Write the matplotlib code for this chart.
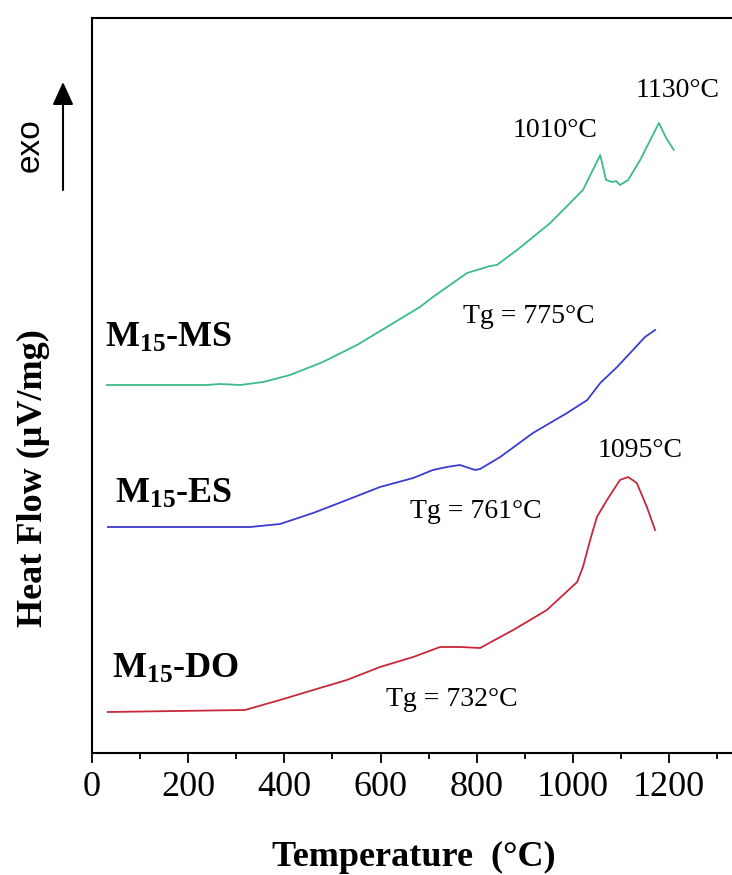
import matplotlib
matplotlib.use('Agg')
import matplotlib.pyplot as plt
from matplotlib.ticker import MultipleLocator

plt.rcParams['font.family'] = ['Liberation Serif', 'DejaVu Serif']
plt.rcParams['mathtext.fontset'] = 'custom'
plt.rcParams['mathtext.rm'] = 'Liberation Serif'
plt.rcParams['mathtext.bf'] = 'Liberation Serif:bold'

# DSC curves (temperature in degC, heat flow in arbitrary offset units)
temp_ms = [31, 239, 266, 308, 356, 412, 480, 551, 620, 682, 709, 780, 828, 842, 884, 953,
           1021, 1057, 1069, 1082, 1090, 1098, 1115, 1140, 1161, 1179, 1194, 1210]
flow_ms = [368, 368, 369, 368, 371, 378, 391, 408, 428, 446, 456, 480, 487, 488, 503, 530,
           563, 598, 573, 571, 572, 568, 573, 593, 613, 630, 615, 603]

temp_es = [33, 329, 391, 460, 530, 599, 668, 709, 738, 765, 797, 807, 849, 917, 988, 1030,
           1057, 1092, 1125, 1150, 1171]
flow_es = [226, 226, 229, 240, 253, 266, 275, 283, 286, 288, 283, 284, 296, 320, 340, 353,
           370, 386, 403, 416, 423]

temp_do = [33, 318, 391, 460, 530, 599, 668, 724, 765, 807, 876, 946, 1009, 1021, 1036, 1050,
           1071, 1098, 1115, 1133, 1154, 1171]
flow_do = [41, 43, 53, 63, 73, 86, 96, 106, 106, 105, 123, 143, 171, 186, 213, 236,
           253, 273, 276, 270, 246, 223]

sample_names = [r'$\mathbf{M_{15}}$-MS', r'$\mathbf{M_{15}}$-ES', r'$\mathbf{M_{15}}$-DO']
tg_labels = ['Tg = 775°C', 'Tg = 761°C', 'Tg = 732°C']
peak_labels = ['1010°C', '1130°C', '1095°C']

fig = plt.figure(figsize=(7.32, 8.75), dpi=100)
ax = fig.add_axes([92 / 732, 122 / 875, 640 / 732, 735 / 875])

ax.plot(temp_ms, flow_ms, color='#3dbb86', lw=1.3)
ax.plot(temp_es, flow_es, color='#3c3ccf', lw=1.3)
ax.plot(temp_do, flow_do, color='#c8283c', lw=1.3)

# sample names
ax.text(27, 406, sample_names[0], fontsize=26, fontweight='bold', ha='left', va='baseline')
ax.text(48, 250, sample_names[1], fontsize=26, fontweight='bold', ha='left', va='baseline')
ax.text(42, 75, sample_names[2], fontsize=26, fontweight='bold', ha='left', va='baseline')

# glass transitions
ax.text(909, 430, tg_labels[0], fontsize=20, ha='center', va='baseline')
ax.text(799, 235, tg_labels[1], fontsize=20, ha='center', va='baseline')
ax.text(749, 47, tg_labels[2], fontsize=20, ha='center', va='baseline')

# crystallisation peaks
ax.text(963, 616, peak_labels[0], fontsize=20, ha='center', va='baseline')
ax.text(1217, 656, peak_labels[1], fontsize=20, ha='center', va='baseline')
ax.text(1140, 296, peak_labels[2], fontsize=20, ha='center', va='baseline')

ax.set_xlim(0, 1331)
ax.set_ylim(0, 735)
ax.xaxis.set_major_locator(MultipleLocator(200))
ax.xaxis.set_minor_locator(MultipleLocator(100))
ax.set_yticks([])
ax.tick_params(axis='x', which='major', direction='out', length=7, width=1.3,
               labelsize=26, pad=6)
ax.tick_params(axis='x', which='minor', direction='out', length=4.5, width=1.3)
ax.spines['right'].set_visible(False)
for s in ['left', 'bottom', 'top']:
    ax.spines[s].set_linewidth(1.5)

fig.text(414 / 732, 18 / 875, 'Temperature  (°C)', fontsize=26, fontweight='bold',
         ha='center', va='center')
fig.text(33 / 732, 397 / 875, 'Heat Flow (µV/mg)', fontsize=26, fontweight='bold',
         rotation=90, ha='center', va='center')

# exo arrow
fig.text(30 / 732, 730 / 875, 'exo', family='Liberation Sans', fontsize=24,
         rotation=90, ha='center', va='center')
ax.annotate('', xy=(63, 793), xytext=(63, 685), xycoords='figure pixels',
            textcoords='figure pixels',
            arrowprops=dict(arrowstyle='-|>,head_length=0.7,head_width=0.32',
                            mutation_scale=20, color='black', lw=1.5,
                            shrinkA=0, shrinkB=0))

fig.savefig('out.png', dpi=100)
